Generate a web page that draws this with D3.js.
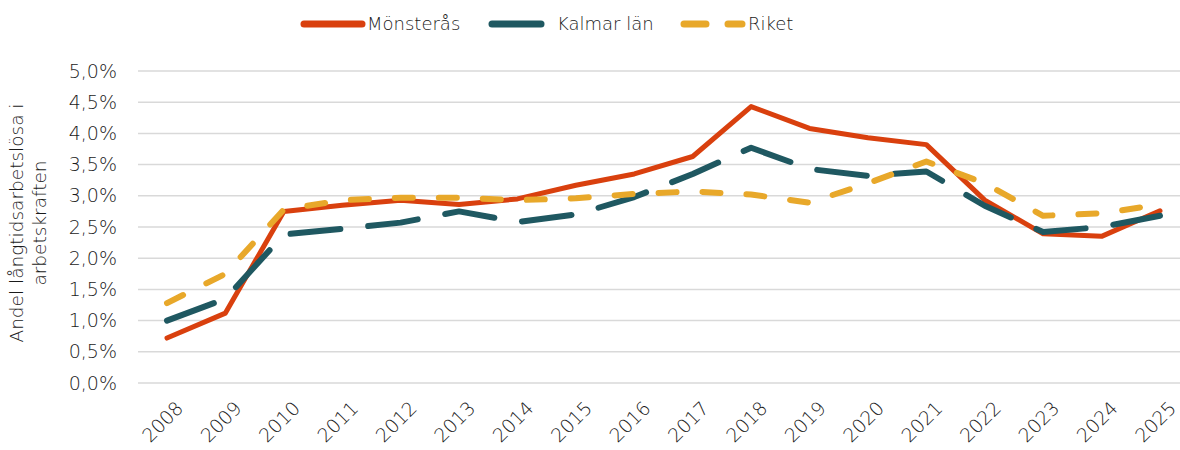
<!DOCTYPE html>
<html>
<head>
<meta charset="utf-8">
<script src="https://cdn.jsdelivr.net/npm/d3@7"></script>
<style>
  body { margin: 0; background: #fff; }
  text { font-family: "DejaVu Sans ExtraLight", "DejaVu Sans", sans-serif; font-weight: 200; fill: #1a1a1a; }
</style>
</head>
<body>
<script>
'use strict';

// data
const years = [2008, 2009, 2010, 2011, 2012, 2013, 2014, 2015, 2016,
  2017, 2018, 2019, 2020, 2021, 2022, 2023, 2024, 2025];
const monsteras = [0.72, 1.12, 2.75, 2.85, 2.93, 2.86, 2.95, 3.17, 3.35,
  3.63, 4.43, 4.08, 3.93, 3.82, 2.93, 2.39, 2.35, 2.76];
const kalmar = [1.00, 1.35, 2.38, 2.47, 2.57, 2.75, 2.58, 2.70, 2.98,
  3.35, 3.77, 3.43, 3.32, 3.39, 2.84, 2.42, 2.50, 2.68];
const riket = [1.28, 1.75, 2.78, 2.93, 2.97, 2.97, 2.93, 2.96, 3.03,
  3.07, 3.02, 2.89, 3.20, 3.55, 3.20, 2.68, 2.72, 2.86];
const yTicks = [0, 0.5, 1, 1.5, 2, 2.5, 3, 3.5, 4, 4.5, 5];

const series = [
  {name: 'Mönsterås', values: monsteras, color: '#D9400E', width: 5, dash: null},
  {name: 'Kalmar län', values: kalmar, color: '#1F5861', width: 6, dash: '50,28'},
  {name: 'Riket', values: riket, color: '#E8A82A', width: 6, dash: '18,26'}
];

const W = 1180, H = 450;
const svg = d3.select('body').append('svg')
  .attr('width', W)
  .attr('height', H);

const x = d3.scalePoint()
  .domain(years)
  .range([167, 1160]);

const y = d3.scaleLinear()
  .domain([0, 5])
  .range([383, 71]);

// gridlines
svg.append('g')
  .selectAll('line')
  .data(yTicks)
  .enter()
  .append('line')
  .attr('x1', 138)
  .attr('x2', W)
  .attr('y1', d => y(d))
  .attr('y2', d => y(d))
  .attr('stroke', '#d9d9d9')
  .attr('stroke-width', 1.5);

// y tick labels
const fmt = d => d.toFixed(1).replace('.', ',') + '%';
svg.append('g')
  .selectAll('text')
  .data(yTicks)
  .enter()
  .append('text')
  .attr('x', 117)
  .attr('y', d => y(d))
  .attr('dy', '0.35em')
  .attr('text-anchor', 'end')
  .style('font-size', '19px')
  .text(fmt);

// x tick labels, rotated
svg.append('g')
  .selectAll('text')
  .data(years)
  .enter()
  .append('text')
  .attr('transform', d => 'translate(' + (x(d) + 8) + ',400) rotate(-45)')
  .attr('text-anchor', 'end')
  .attr('dy', '0.7em')
  .style('font-size', '19px')
  .text(d => d);

// y axis title
const title = svg.append('text')
  .attr('transform', 'translate(23,223) rotate(-90)')
  .attr('text-anchor', 'middle')
  .style('font-size', '18.5px');
title.append('tspan').attr('x', 0).attr('dy', 0).text('Andel långtidsarbetslösa i');
title.append('tspan').attr('x', 0).attr('dy', '1.25em').text('arbetskraften');

// lines
const line = d3.line()
  .x((d, i) => x(years[i]))
  .y(d => y(d));

series.forEach(s => {
  svg.append('path')
    .datum(s.values)
    .attr('d', line)
    .attr('fill', 'none')
    .attr('stroke', s.color)
    .attr('stroke-width', s.width)
    .attr('stroke-linecap', 'round')
    .attr('stroke-linejoin', 'round')
    .attr('stroke-dasharray', s.dash);
});

// legend
const legend = [
  {s: series[0], x1: 304, x2: 362, tx: 367},
  {s: series[1], x1: 492, x2: 541, tx: 557},
  {s: series[2], x1: 684, x2: 742, tx: 748}
];
legend.forEach(l => {
  svg.append('line')
    .attr('x1', l.x1)
    .attr('x2', l.x2)
    .attr('y1', 24)
    .attr('y2', 24)
    .attr('stroke', l.s.color)
    .attr('stroke-width', 7)
    .attr('stroke-linecap', 'round')
    .attr('stroke-dasharray', l.s.name == 'Riket' ? '22,22' : null);
  svg.append('text')
    .attr('x', l.tx)
    .attr('y', 24)
    .attr('dy', '0.35em')
    .style('font-size', '18px')
    .text(l.s.name);
});
</script>
</body>
</html>
